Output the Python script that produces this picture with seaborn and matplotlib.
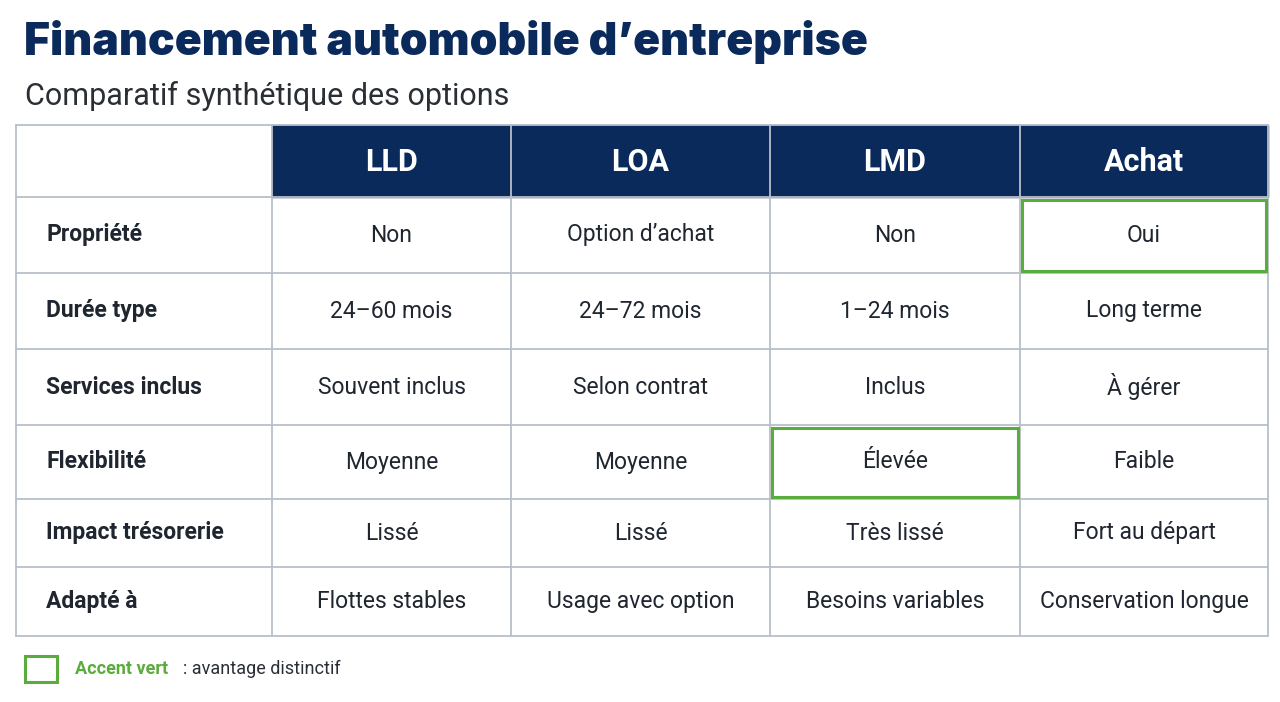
import matplotlib.pyplot as plt
import seaborn as sns
from matplotlib.patches import Rectangle

# Table content
columns = ["LLD", "LOA", "LMD", "Achat"]
row_labels = ["Propriété", "Durée type", "Services inclus", "Flexibilité",
              "Impact trésorerie", "Adapté à"]
cells = [
    ["Non", "Option d’achat", "Non", "Oui"],
    ["24–60 mois", "24–72 mois", "1–24 mois", "Long terme"],
    ["Souvent inclus", "Selon contrat", "Inclus", "À gérer"],
    ["Moyenne", "Moyenne", "Élevée", "Faible"],
    ["Lissé", "Lissé", "Très lissé", "Fort au départ"],
    ["Flottes stables", "Usage avec option", "Besoins variables", "Conservation longue"],
]
highlights = [(0, 3), (3, 2)]  # (row, col) with green accent

NAVY = "#0b2a5c"
GREEN = "#5aac3c"
GRID = "#b9bfc8"
TEXT = "#1f2630"

sns.set_theme(style="white")
plt.rcParams['font.family'] = ['Roboto', 'DejaVu Sans']

fig = plt.figure(figsize=(12.8, 7.02), dpi=100)
ax = fig.add_axes([0, 0, 1, 1])
ax.set_xlim(0, 1280)
ax.set_ylim(702, 0)
ax.axis('off')

col_x = [16, 272, 511, 770, 1020, 1268]
row_y = [125, 197, 273, 349, 425, 499, 567, 636]

ax.text(24, 42, "Financement automobile d’entreprise", fontsize=32, fontweight='black',
        family=['Inter', 'Roboto', 'DejaVu Sans'], color=NAVY, va='center', ha='left')
ax.text(25, 96, "Comparatif synthétique des options", fontsize=22, color="#2a2f36",
        va='center', ha='left')

# header
for j, name in enumerate(columns):
    x0, x1 = col_x[j + 1], col_x[j + 2]
    ax.add_patch(Rectangle((x0, row_y[0]), x1 - x0, row_y[1] - row_y[0], color=NAVY, zorder=1))
    ax.text((x0 + x1) / 2, (row_y[0] + row_y[1]) / 2 + 1, name, fontsize=22, fontweight='bold',
            color='white', ha='center', va='center', zorder=3)

# grid lines
for x in col_x:
    ax.plot([x, x], [row_y[0], row_y[-1]], color=GRID, lw=1.3, zorder=2)
for y in row_y:
    ax.plot([col_x[0], col_x[-1]], [y, y], color=GRID, lw=1.3, zorder=2)

# body
for i, label in enumerate(row_labels):
    yc = (row_y[i + 1] + row_y[i + 2]) / 2
    ax.text(46, yc, label, fontsize=16.5, fontweight='bold', color=TEXT, ha='left', va='center')
    for j, val in enumerate(cells[i]):
        xc = (col_x[j + 1] + col_x[j + 2]) / 2
        ax.text(xc, yc, val, fontsize=16.5, color=TEXT, ha='center', va='center')

for i, j in highlights:
    x0, x1 = col_x[j + 1], col_x[j + 2]
    y0, y1 = row_y[i + 1], row_y[i + 2]
    ax.add_patch(Rectangle((x0 + 2, y0 + 3), x1 - x0 - 4, y1 - y0 - 5, fill=False,
                           edgecolor=GREEN, lw=2.2, zorder=4))

# legend
ax.add_patch(Rectangle((25, 656), 32, 26, fill=False, edgecolor=GREEN, lw=2.2))
ax.text(75, 669, "Accent vert", fontsize=13, fontweight='bold', color=GREEN, va='center', ha='left')
ax.text(183, 669, ": avantage distinctif", fontsize=13, color="#2a2f36", va='center', ha='left')

fig.savefig("out.png", dpi=100)
